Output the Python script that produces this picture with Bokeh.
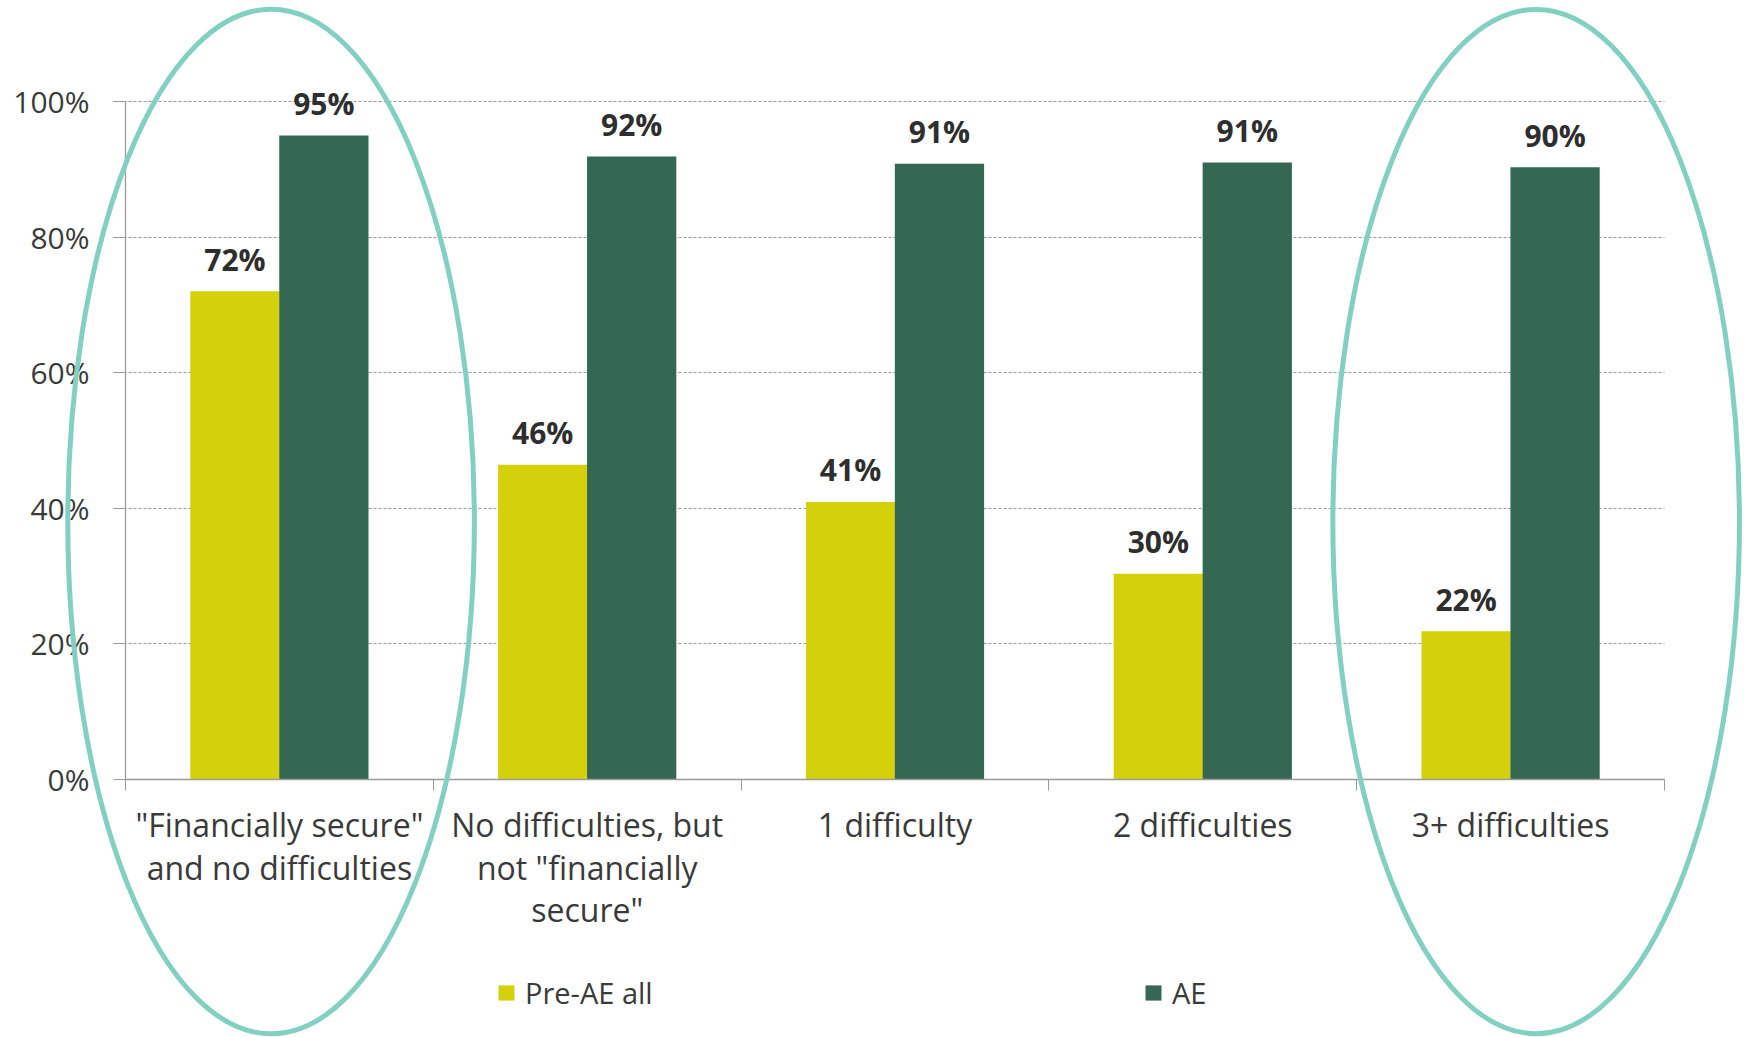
from bokeh.plotting import figure
from bokeh.models import (ColumnDataSource, Range1d, FixedTicker, NumeralTickFormatter,
                          Legend, LegendItem)
from bokeh.transform import dodge
from bokeh.embed import file_html
from bokeh.resources import INLINE

# ---------------- data ----------------
categories = ['"Financially secure"\nand no difficulties',
              'No difficulties, but\nnot "financially\nsecure"',
              '1 difficulty',
              '2 difficulties',
              '3+ difficulties']
pre_ae = [0.72, 0.464, 0.409, 0.303, 0.218]
ae = [0.95, 0.919, 0.908, 0.910, 0.903]
series_names = ["Pre-AE all", "AE"]
y_ticks = [0.0, 0.2, 0.4, 0.6, 0.8, 1.0]
highlighted = [0, 4]          # circled categories

# ---------------- styles / geometry ----------------
FONT = "Open Sans"
YELLOW = "#d5d00c"
GREEN = "#346852"
TEAL = "#82d0c2"
TEXT = "#3a3a3a"
GRAY = "#9a9a9a"
BAR_W = 0.29
OFF = 0.1445
W, H = 1744, 1037
AX_LEFT_PX, CAT_PX = 125, 307.8     # y-axis position and category width in px
ZERO_PX, UNIT_PX = 778.5, 677.5     # 0% position and 0-100% span in px

centers = [i + 0.5 for i in range(len(categories))]
src = ColumnDataSource(dict(
    x=centers,
    pre=pre_ae,
    ae=ae,
    pre_lbl=[f"{round(v * 100):d}%" for v in pre_ae],
    ae_lbl=[f"{round(v * 100):d}%" for v in ae],
))

x_range = Range1d(-AX_LEFT_PX / CAT_PX, (W - AX_LEFT_PX) / CAT_PX)
y_range = Range1d(-(H - ZERO_PX) / UNIT_PX, 1 + (ZERO_PX - UNIT_PX) / UNIT_PX)

p = figure(width=W, height=H, output_backend="svg", toolbar_location=None,
           x_range=x_range, y_range=y_range,
           min_border_left=0, min_border_right=0, min_border_top=0, min_border_bottom=0)
p.outline_line_color = None
p.background_fill_color = "white"
p.border_fill_color = "white"

r_pre = p.vbar(x=dodge("x", -OFF, range=p.x_range), top="pre", width=BAR_W, source=src,
               fill_color=YELLOW, line_color=None)
r_ae = p.vbar(x=dodge("x", OFF, range=p.x_range), top="ae", width=BAR_W, source=src,
              fill_color=GREEN, line_color=None)

for col, lbl, off in (("pre", "pre_lbl", -OFF), ("ae", "ae_lbl", OFF)):
    p.text(x=dodge("x", off, range=p.x_range), y=col, text=lbl, source=src,
           text_align="center", text_baseline="alphabetic", y_offset=-32,
           text_font=dict(value=FONT), text_font_style="bold",
           text_font_size="30px", text_color="#2e2e2e")

# grid
p.xgrid.visible = False
p.ygrid.ticker = FixedTicker(ticks=y_ticks[1:])
p.ygrid.cross_bounds = (-12 / CAT_PX, len(categories))
p.ygrid.grid_line_color = GRAY
p.ygrid.grid_line_dash = "3 2"
p.ygrid.grid_line_width = 1

# y axis (drawn inside the full-canvas frame at x = 0)
ya = p.yaxis[0]
ya.fixed_location = 0
ya.bounds = (0, 1)
ya.ticker = FixedTicker(ticks=y_ticks)
ya.formatter = NumeralTickFormatter(format="0%")
ya.axis_line_color = GRAY
ya.axis_line_width = 1.3
ya.major_tick_line_color = GRAY
ya.major_tick_out = 12
ya.major_tick_in = 0
ya.minor_tick_line_color = None
ya.major_label_standoff = 24
ya.major_label_text_font = FONT
ya.major_label_text_font_size = "30px"
ya.major_label_text_color = TEXT

# x axis: labels at centres, ticks at category boundaries
xa = p.xaxis[0]
xa.fixed_location = 0
xa.bounds = (0, len(categories))
xa.ticker = FixedTicker(ticks=centers, minor_ticks=list(range(len(categories) + 1)))
xa.major_label_overrides = {c: lab for c, lab in zip(centers, categories)}
xa.axis_line_color = GRAY
xa.axis_line_width = 1.5
xa.major_tick_line_color = None
xa.major_tick_out = 0
xa.major_tick_in = 0
xa.minor_tick_line_color = GRAY
xa.minor_tick_out = 11
xa.minor_tick_in = 0
xa.major_label_standoff = 13
xa.major_label_text_font = FONT
xa.major_label_text_font_size = "32px"
xa.major_label_text_color = TEXT
xa.major_label_text_line_height = 0.99

# highlight ellipses (decoration around circled categories)
ell_dx = {0: -0.027, 4: 0.083}
for idx in highlighted:
    p.ellipse(x=centers[idx] + ell_dx[idx], y=0.38, width=1.321, height=1.513,
              fill_alpha=0, line_color=TEAL, line_width=5, level="annotation")

# legends
for r, name, xloc in ((r_pre, series_names[0], 496), (r_ae, series_names[1], 1143)):
    lg = Legend(items=[LegendItem(label=name, renderers=[r])], location=(xloc, 25),
                orientation="horizontal", padding=0, margin=0, spacing=0,
                glyph_width=20, glyph_height=19, label_standoff=9,
                label_text_font=FONT, label_text_font_size="29px",
                label_text_color=TEXT, border_line_color=None,
                background_fill_alpha=0)
    p.add_layout(lg, "center")

open("out.html", "w").write(file_html(p, INLINE))
